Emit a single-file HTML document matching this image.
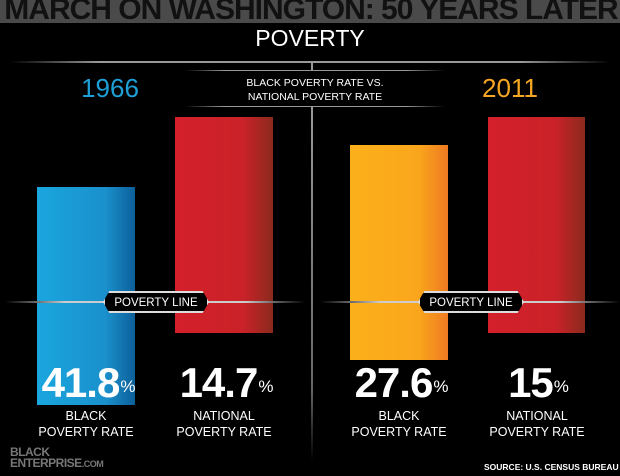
<!DOCTYPE html>
<html><head><style>
body{margin:0;width:620px;height:476px;background:#000;overflow:hidden;position:relative;font-family:"Liberation Sans",sans-serif;color:#fff}
.a{position:absolute}
.bar{position:absolute}
.val{position:absolute;top:362px;font-size:42px;font-weight:bold;letter-spacing:-1px;line-height:42px;width:120px;text-align:center}
.val sup{font-size:17px;font-weight:normal;vertical-align:top;position:relative;top:4px;margin-left:1px}
.lab{position:absolute;top:408px;font-size:12.5px;line-height:16px;text-align:center;width:140px}
.badge{position:absolute;top:291px;height:22px;width:106px;background:#000;border:2px solid #ddd;border-radius:3px;font-size:11.5px;line-height:20px;text-align:center;box-sizing:border-box;clip-path:polygon(6% 0,94% 0,100% 50%,94% 100%,6% 100%,0 50%)}
</style></head><body>
<div class="a" style="left:0;top:0;width:620px;height:23px;background:#4a4a4a"></div>
<div class="a" style="left:-4px;top:-7px;width:630px;text-align:center;font-size:30px;font-weight:bold;color:#111;letter-spacing:-1px;white-space:nowrap">MARCH ON WASHINGTON: 50 YEARS LATER</div>
<div class="a" style="left:0;top:25px;width:620px;text-align:center;font-size:23px">POVERTY</div>
<div class="a" style="left:10px;top:61px;width:600px;height:2px;background:linear-gradient(90deg,#000,#999 15%,#999 85%,#000)"></div>
<div class="a" style="left:311px;top:61px;width:2px;height:9px;background:#999"></div>
<div class="a" style="left:311px;top:106px;width:2px;height:355px;background:linear-gradient(#999,#666 80%,#000)"></div>
<div class="a" style="left:185px;top:70px;width:260px;height:1px;background:linear-gradient(90deg,#000,#999 15%,#999 85%,#000)"></div>
<div class="a" style="left:185px;top:106px;width:260px;height:1px;background:linear-gradient(90deg,#000,#999 15%,#999 85%,#000)"></div>
<div class="a" style="left:60px;top:73px;width:100px;text-align:center;font-size:26px;color:#1ea0d6">1966</div>
<div class="a" style="left:460px;top:73px;width:100px;text-align:center;font-size:26px;color:#f5a623">2011</div>
<div class="a" style="left:185px;top:76px;width:260px;text-align:center;font-size:10.5px;line-height:14px">BLACK POVERTY RATE VS.<br>NATIONAL POVERTY RATE</div>
<div class="bar" style="left:37px;top:187px;width:98px;height:218px;background:linear-gradient(90deg,#1aa6de,#1a90cc 70%,#0d5f99)"></div>
<div class="bar" style="left:175px;top:117px;width:98px;height:216px;background:linear-gradient(90deg,#d4202a,#c92228 70%,#8a2a1e)"></div>
<div class="bar" style="left:350px;top:145px;width:98px;height:215px;background:linear-gradient(90deg,#fbb01a,#f9a61c 70%,#ee7a22)"></div>
<div class="bar" style="left:488px;top:117px;width:97px;height:216px;background:linear-gradient(90deg,#d4202a,#c92228 70%,#8a2a1e)"></div>
<div class="a" style="left:5px;top:301px;width:300px;height:2px;background:linear-gradient(90deg,#000,#ccc 20%,#ccc 80%,#000)"></div>
<div class="a" style="left:320px;top:301px;width:300px;height:2px;background:linear-gradient(90deg,#000,#ccc 20%,#ccc 80%,#000)"></div>
<div class="badge" style="left:103px">POVERTY LINE</div>
<div class="badge" style="left:418px">POVERTY LINE</div>
<div class="val" style="left:28px">41.8<sup>%</sup></div>
<div class="val" style="left:166px">14.7<sup>%</sup></div>
<div class="val" style="left:341px">27.6<sup>%</sup></div>
<div class="val" style="left:478px">15<sup>%</sup></div>
<div class="lab" style="left:16px">BLACK<br>POVERTY RATE</div>
<div class="lab" style="left:154px">NATIONAL<br>POVERTY RATE</div>
<div class="lab" style="left:329px">BLACK<br>POVERTY RATE</div>
<div class="lab" style="left:467px">NATIONAL<br>POVERTY RATE</div>
<div class="a" style="left:10px;top:447px;font-size:12px;font-weight:bold;line-height:11px;color:#777;letter-spacing:-0.5px">BLACK<br>ENTERPRISE<span style="font-size:9px">.COM</span></div>
<div class="a" style="left:484px;top:462px;font-size:8.5px;font-weight:bold">SOURCE: U.S. CENSUS BUREAU</div>
</body></html>
